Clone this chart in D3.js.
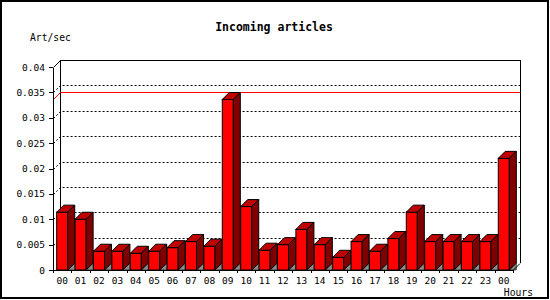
<!DOCTYPE html>
<html>
<head>
<meta charset="utf-8">
<script src="https://cdn.jsdelivr.net/npm/d3@7"></script>
<style>
  body { margin: 0; background: #fff; }
  text { font-family: "DejaVu Sans Mono", monospace; fill: #000; }
</style>
</head>
<body>
<div id="chart"></div>
<script>
var hours = ['00','01','02','03','04','05','06','07','08','09','10','11',
             '12','13','14','15','16','17','18','19','20','21','22','23','00'];
var artPerSec = [0.0114, 0.0100, 0.0037, 0.0037, 0.0033, 0.0037, 0.0044, 0.0056,
                 0.0047, 0.0336, 0.0125, 0.0039, 0.0050, 0.0080, 0.0050, 0.0025,
                 0.0056, 0.0037, 0.0062, 0.0114, 0.0056, 0.0056, 0.0056, 0.0056, 0.0220];
var yTicks = [0, 0.005, 0.01, 0.015, 0.02, 0.025, 0.03, 0.035, 0.04];
var yTickLabels = ['0','0.005','0.01','0.015','0.02','0.025','0.03','0.035','0.04'];

var depth = 7;
var x = d3.scaleBand()
  .domain(d3.range(hours.length))
  .range([53, 513])
  .paddingInner(0.4)
  .paddingOuter(0.2);
var y = d3.scaleLinear()
  .domain([0, 0.04])
  .range([270, 67]);
var bw = x.bandwidth();
var step = x.step();
var x0 = 53, x1 = 513;

var svg = d3.select('#chart')
  .append('svg')
  .attr('width', 550)
  .attr('height', 300)
  .style('display', 'block');

// outer frame
svg.append('rect')
  .attr('x', 1).attr('y', 1)
  .attr('width', 547).attr('height', 297)
  .attr('fill', 'none')
  .attr('stroke', '#000')
  .attr('stroke-width', 2);

// back wall edges
var wall = svg.append('g').attr('shape-rendering', 'crispEdges');
wall.append('path')
  .attr('d', 'M' + (x0 + depth) + ',' + (y(0) - depth) +
             'V' + (y(0.04) - depth) + 'H' + (x1 + depth) + 'V' + (y(0) - depth))
  .attr('fill', 'none')
  .attr('stroke', '#000');

// dotted grid on left wall + back wall
svg.append('g').selectAll('path.grid')
  .data(yTicks.filter(function(t){ return t > 0 && t < 0.04; }))
  .enter()
    .append('path')
    .classed('grid', true)
    .attr('d', function(t){
      var yy = Math.round(y(t)) + 0.5;
      return 'M' + (x0 + 0.5) + ',' + yy + 'L' + (x0 + depth + 0.5) + ',' + (yy - depth) +
             'L' + (x1 + depth) + ',' + (yy - depth);
    })
    .attr('fill', 'none')
    .attr('stroke', '#000')
    .attr('stroke-dasharray', '2,2');

// max line
var maxV = d3.max(artPerSec);
var ym = Math.round(y(maxV)) + 0.5;
svg.append('path')
  .attr('d', 'M' + (x0 + 0.5) + ',' + ym + 'L' + (x0 + depth + 0.5) + ',' + (ym - depth) +
             'L' + (x1 + depth) + ',' + (ym - depth))
  .attr('fill', 'none')
  .attr('stroke', '#ff0000');

// bars
var bars = svg.append('g').selectAll('g.bar')
  .data(artPerSec)
  .enter()
    .append('g')
    .classed('bar', true);

bars.append('polygon')
  .attr('points', function(d, i){
    var xr = x(i) + bw, yb = y(0);
    return [[xr, yb], [xr + depth, yb - depth], [xr + depth, yb]].join(' ');
  })
  .attr('fill', '#8c8c8c')
  .attr('stroke', '#000')
  .attr('stroke-width', 0.6);

bars.append('rect')
  .attr('x', function(d, i){ return x(i); })
  .attr('y', function(d){ return y(d); })
  .attr('width', bw)
  .attr('height', function(d){ return y(0) - y(d); })
  .attr('fill', '#ff0000')
  .attr('stroke', '#000');

bars.append('polygon')
  .attr('points', function(d, i){
    var xl = x(i), xr = xl + bw, yt = y(d);
    return [[xl, yt], [xl + depth, yt - depth], [xr + depth, yt - depth], [xr, yt]].join(' ');
  })
  .attr('fill', '#c00000')
  .attr('stroke', '#000');

bars.append('polygon')
  .attr('points', function(d, i){
    var xr = x(i) + bw, yt = y(d), yb = y(0);
    return [[xr, yt], [xr + depth, yt - depth], [xr + depth, yb - depth], [xr, yb]].join(' ');
  })
  .attr('fill', '#800000')
  .attr('stroke', '#000');

// axes
var ax = svg.append('g').attr('shape-rendering', 'crispEdges');
ax.append('path')
  .attr('d', 'M' + (x0 + 0.5) + ',' + (y(0) + 0.5) + 'V' + (y(0.04) + 0.5))
  .attr('stroke', '#000').attr('fill', 'none');
ax.append('path')
  .attr('d', 'M' + x0 + ',' + (y(0) + 0.5) + 'H' + x1)
  .attr('stroke', '#000').attr('fill', 'none');
svg.append('path')
  .attr('d', 'M' + (x0 + 0.5) + ',' + (y(0.04) + 0.5) + 'l' + depth + ',' + (-depth) +
             'M' + x1 + ',' + (y(0) + 0.5) + 'l' + depth + ',' + (-depth))
  .attr('stroke', '#000').attr('fill', 'none');

// y ticks and labels
ax.selectAll('line.ytick')
  .data(yTicks)
  .enter()
    .append('line')
    .classed('ytick', true)
    .attr('x1', x0 - 4).attr('x2', x0)
    .attr('y1', function(t){ return Math.round(y(t)) + 0.5; })
    .attr('y2', function(t){ return Math.round(y(t)) + 0.5; })
    .attr('stroke', '#000');

svg.selectAll('text.ylab')
  .data(yTicks)
  .enter()
    .append('text')
    .classed('ylab', true)
    .attr('x', 45)
    .attr('y', function(t){ return y(t) + 3.5; })
    .attr('text-anchor', 'end')
    .attr('font-size', 9.5)
    .text(function(t, i){ return yTickLabels[i]; });

// x ticks at slot boundaries
ax.selectAll('line.xtick')
  .data(d3.range(hours.length + 1))
  .enter()
    .append('line')
    .classed('xtick', true)
    .attr('x1', function(i){ return Math.round(x0 + i * step) + 0.5; })
    .attr('x2', function(i){ return Math.round(x0 + i * step) + 0.5; })
    .attr('y1', y(0)).attr('y2', y(0) + 3)
    .attr('stroke', '#000');

svg.selectAll('text.xlab')
  .data(hours)
  .enter()
    .append('text')
    .classed('xlab', true)
    .attr('x', function(d, i){ return x(i) + bw / 2; })
    .attr('y', 283.5)
    .attr('text-anchor', 'middle')
    .attr('font-size', 9.5)
    .text(function(d){ return d; });

// titles
svg.append('text')
  .attr('x', 274).attr('y', 31)
  .attr('text-anchor', 'middle')
  .attr('font-size', 11.5)
  .attr('font-weight', 'bold')
  .text('Incoming articles');
svg.append('text')
  .attr('x', 30).attr('y', 41)
  .attr('font-size', 9.7)
  .text('Art/sec');
svg.append('text')
  .attr('x', 533).attr('y', 296)
  .attr('text-anchor', 'end')
  .attr('font-size', 9.7)
  .text('Hours');
</script>
</body>
</html>
